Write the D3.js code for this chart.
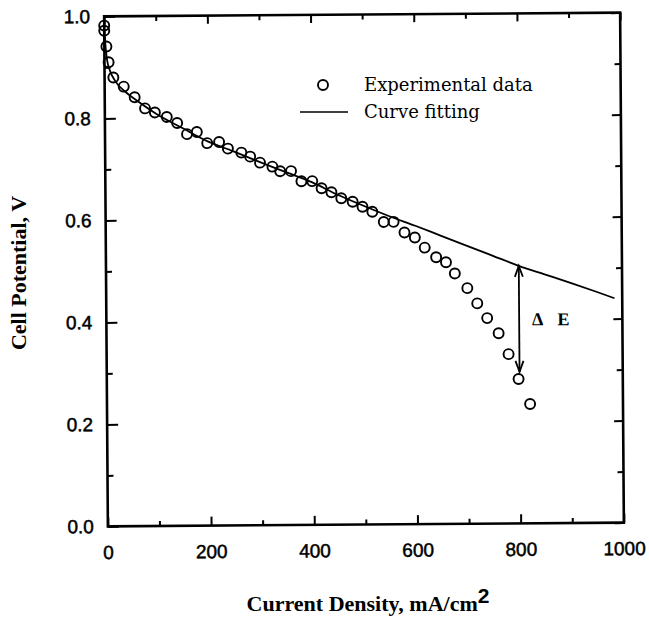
<!DOCTYPE html>
<html>
<head>
<meta charset="utf-8">
<script src="https://cdn.jsdelivr.net/npm/d3@7"></script>
<style>
  html, body { margin: 0; padding: 0; background: #fff; }
  svg { display: block; }
</style>
</head>
<body>
<script>
// ---- Data ----
const currentDensity = [0, 0, 4, 8, 17, 37, 58, 78, 97, 120, 140, 159, 178, 198, 221, 238, 264, 281, 300, 324, 339, 360, 380, 401, 419, 438, 457, 479, 498, 517, 539, 558, 579, 599, 618, 640, 659, 676, 700, 719, 738, 760, 779, 798, 820];
const cellPotential = [0.982, 0.972, 0.941, 0.910, 0.880, 0.862, 0.841, 0.819, 0.811, 0.802, 0.790, 0.768, 0.772, 0.750, 0.752, 0.739, 0.731, 0.723, 0.711, 0.703, 0.694, 0.694, 0.674, 0.674, 0.660, 0.652, 0.640, 0.633, 0.623, 0.613, 0.593, 0.593, 0.572, 0.562, 0.542, 0.523, 0.513, 0.491, 0.462, 0.432, 0.403, 0.373, 0.332, 0.283, 0.234];

const fitCurrent = [0, 2, 5, 10, 20, 40, 60, 100, 150, 200, 250, 300, 350, 400, 450, 500, 550, 600, 650, 700, 750, 800, 850, 900, 950, 985];
const fitPotential = [0.985, 0.945, 0.915, 0.895, 0.874, 0.852, 0.836, 0.808, 0.780, 0.753, 0.733, 0.712, 0.692, 0.672, 0.647, 0.625, 0.604, 0.585, 0.565, 0.545, 0.525, 0.505, 0.488, 0.471, 0.453, 0.440];

const xTickValues = [0, 200, 400, 600, 800, 1000];
const xTickLabels = ["0", "200", "400", "600", "800", "1000"];
const yTickValues = [0.0, 0.2, 0.4, 0.6, 0.8, 1.0];
const yTickLabels = ["0.0", "0.2", "0.4", "0.6", "0.8", "1.0"];

const legendLabels = ["Experimental data", "Curve fitting"];
const deltaE = { current: 800, top: 0.505, bottom: 0.297, labels: ["\u0394", "E"], labelCurrent: 825, labelPotential: 0.39 };

// ---- Layout ----
const W = 649, H = 621;
const frame = { left: 106, right: 622, top: 14.5, bottom: 524.5 };

const svg = d3.select("body").append("svg")
  .attr("width", W).attr("height", H)
  .attr("viewBox", `0 0 ${W} ${H}`);

svg.append("rect").attr("width", W).attr("height", H).attr("fill", "#fff");

const x = d3.scaleLinear().domain([0, 1000]).range([frame.left, frame.right]);
const y = d3.scaleLinear().domain([0, 1]).range([frame.bottom, frame.top]);

// slight scan tilt of the original
const g = svg.append("g").attr("transform", "rotate(-0.42, 365, 270)");

// Frame
g.append("rect")
  .attr("x", frame.left).attr("y", frame.top)
  .attr("width", frame.right - frame.left).attr("height", frame.bottom - frame.top)
  .attr("fill", "none").attr("stroke", "#000").attr("stroke-width", 2.6);

// Ticks (inward) via axes
const minorX = d3.range(0, 1001, 100);
const minorY = d3.range(0, 1.001, 0.1).map(v => +v.toFixed(1));
const isMajorX = v => v % 200 === 0;
const isMajorY = v => Math.round(v * 10) % 2 === 0;

function styleAxis(sel) {
  sel.select(".domain").remove();
  sel.selectAll(".tick line").attr("stroke", "#000").attr("stroke-width", 2);
  sel.selectAll(".tick text").remove();
}

// bottom
g.append("g").attr("transform", `translate(0,${frame.bottom})`)
  .call(d3.axisTop(x).tickValues(minorX).tickSize(0))
  .call(styleAxis)
  .selectAll(".tick line").attr("y2", d => isMajorX(d) ? -9 : -5);
// top
g.append("g").attr("transform", `translate(0,${frame.top})`)
  .call(d3.axisBottom(x).tickValues(minorX).tickSize(0))
  .call(styleAxis)
  .selectAll(".tick line").attr("y2", d => isMajorX(d) ? 8 : 5);
// left
g.append("g").attr("transform", `translate(${frame.left},0)`)
  .call(d3.axisRight(y).tickValues(minorY).tickSize(0))
  .call(styleAxis)
  .selectAll(".tick line").attr("x2", d => isMajorY(d) ? 11 : 6);
// right
g.append("g").attr("transform", `translate(${frame.right},0)`)
  .call(d3.axisLeft(y).tickValues(minorY).tickSize(0))
  .call(styleAxis)
  .selectAll(".tick line").attr("x2", d => isMajorY(d) ? -9 : -6);

// Tick labels
const tickFont = "'Liberation Sans', Arial, sans-serif";
const xl = g.append("g").attr("transform", `translate(0,${frame.bottom})`)
  .call(d3.axisBottom(x).tickValues(xTickValues).tickFormat((d, i) => xTickLabels[i]).tickSize(0).tickPadding(19));
xl.select(".domain").remove();
xl.selectAll("text").attr("font-family", tickFont).attr("font-size", 19).attr("fill", "#000")
  .attr("stroke", "#000").attr("stroke-width", 0.5);

const yl = g.append("g").attr("transform", `translate(${frame.left},0)`)
  .call(d3.axisLeft(y).tickValues(yTickValues).tickFormat((d, i) => yTickLabels[i]).tickSize(0).tickPadding(14));
yl.select(".domain").remove();
yl.selectAll("text").attr("font-family", tickFont).attr("font-size", 19).attr("fill", "#000")
  .attr("stroke", "#000").attr("stroke-width", 0.5);

// Fit curve
const line = d3.line().x((d, i) => x(fitCurrent[i])).y((d, i) => y(fitPotential[i])).curve(d3.curveMonotoneX);
g.append("path").datum(fitCurrent)
  .attr("d", line).attr("fill", "none").attr("stroke", "#000").attr("stroke-width", 1.8);

// Data points
g.append("g").selectAll("circle").data(currentDensity).join("circle")
  .attr("cx", d => x(d)).attr("cy", (d, i) => y(cellPotential[i]))
  .attr("r", 5).attr("fill", "none").attr("stroke", "#000").attr("stroke-width", 1.9);

// Delta E arrow
const ax = x(deltaE.current), ay1 = y(deltaE.top), ay2 = y(deltaE.bottom);
const arr = g.append("g").attr("stroke", "#000").attr("stroke-width", 1.8).attr("fill", "none");
arr.append("line").attr("x1", ax).attr("x2", ax).attr("y1", ay1).attr("y2", ay2);
arr.append("path").attr("d", `M${ax - 4},${ay1 + 11} L${ax},${ay1} L${ax + 4},${ay1 + 11}`);
arr.append("path").attr("d", `M${ax - 4},${ay2 - 11} L${ax},${ay2} L${ax + 4},${ay2 - 11}`);
const dt = g.append("text").attr("x", x(deltaE.labelCurrent)).attr("y", y(deltaE.labelPotential) + 1)
  .attr("font-family", "'Liberation Serif', 'Times New Roman', serif").attr("font-weight", "bold")
  .attr("font-size", 18).attr("fill", "#000");
dt.append("tspan").text(deltaE.labels[0]);
dt.append("tspan").attr("dx", 14).text(deltaE.labels[1]);

// Legend
const legFont = "'DejaVu Serif', Georgia, serif";
const leg = svg.append("g");
leg.append("circle").attr("cx", 323).attr("cy", 85).attr("r", 5).attr("fill", "none").attr("stroke", "#000").attr("stroke-width", 1.9);
leg.append("line").attr("x1", 300).attr("x2", 348).attr("y1", 112).attr("y2", 112).attr("stroke", "#000").attr("stroke-width", 1.6);
leg.selectAll("text").data(legendLabels).join("text")
  .attr("x", 364).attr("y", (d, i) => 91 + i * 27)
  .attr("font-family", legFont).attr("font-size", 18).attr("fill", "#000").text(d => d);

// Axis titles
const titleFont = "'Liberation Serif', 'Times New Roman', serif";
const xt = svg.append("text").attr("x", 368).attr("y", 611).attr("text-anchor", "middle")
  .attr("font-family", titleFont).attr("font-weight", "bold").attr("font-size", 22).attr("fill", "#000");
xt.append("tspan").text("Current Density, mA/cm");
xt.append("tspan").attr("dy", -8).attr("font-family", tickFont).attr("font-size", 21).text("2");

svg.append("text").attr("transform", "translate(26,273) rotate(-90)").attr("text-anchor", "middle")
  .attr("font-family", titleFont).attr("font-weight", "bold").attr("font-size", 22).attr("fill", "#000")
  .text("Cell Potential, V");
</script>
</body>
</html>
